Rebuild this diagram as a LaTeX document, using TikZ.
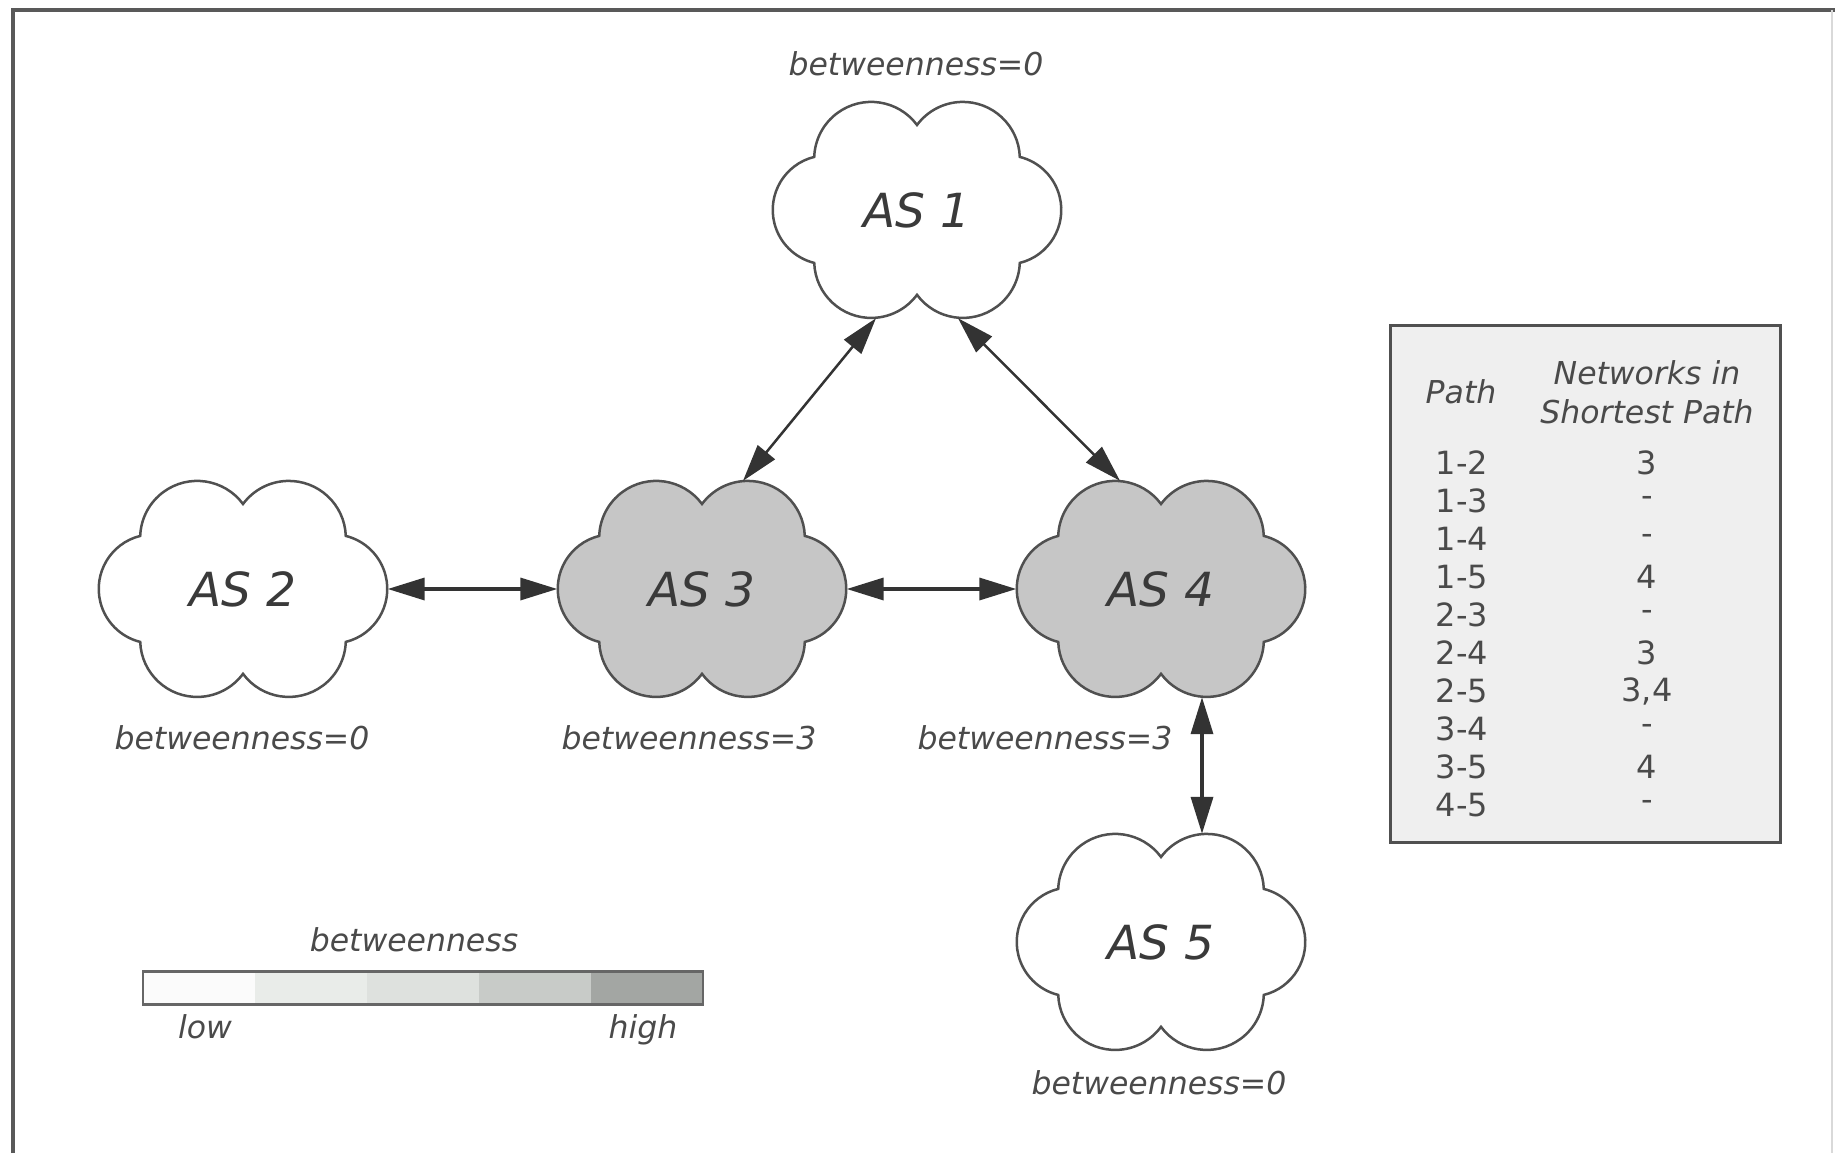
\documentclass[tikz,border=0pt]{standalone}
\usepackage{fontspec}
\setmainfont{DejaVu Sans}
\usetikzlibrary{arrows.meta}
\definecolor{outline}{HTML}{505050}
\definecolor{textgray}{HTML}{3A3A3A}
\definecolor{lblgray}{HTML}{4A4A4A}
\definecolor{cloudfill}{HTML}{C6C6C6}
\definecolor{tablefill}{HTML}{EFEFEF}
\definecolor{segA}{HTML}{FBFBFB}
\definecolor{segB}{HTML}{E9ECE9}
\definecolor{segC}{HTML}{DEE1DE}
\definecolor{segD}{HTML}{C8CBC8}
\definecolor{segE}{HTML}{A3A6A3}
\newcommand\cloudat[3]{%
  \filldraw[cloudline,fill=#3] (#1,#2-85)
    arc[start angle=-36.5,end angle=-178,radius=57]
    arc[start angle=-103.9,end angle=-256.1,radius=54.6]
    arc[start angle=178,end angle=36.5,radius=57]
    arc[start angle=143.5,end angle=2,radius=57]
    arc[start angle=76.1,end angle=-76.1,radius=54.6]
    arc[start angle=-2,end angle=-143.5,radius=57] -- cycle;}
\begin{document}
\begin{tikzpicture}[x=1pt,y=-1pt,
  cloudline/.style={draw=outline,line width=2.5pt},
  cloudnode/.style={minimum width=289pt,minimum height=216pt,inner sep=0pt,
    text=textgray,font=\fontsize{47}{56}\selectfont\itshape},
  lbl/.style={inner sep=0pt,text=lblgray,font=\fontsize{31.5}{38}\selectfont\itshape},
  tbl/.style={inner sep=0pt,text=lblgray,font=\fontsize{32}{38}\selectfont},
  tblh/.style={inner sep=0pt,text=lblgray,align=center,font=\fontsize{31.5}{39}\selectfont\itshape},
  arr/.style={draw=black!80,line width=3.5pt,{Triangle[length=37pt,width=22pt]}-{Triangle[length=37pt,width=22pt]}},
  darr/.style={draw=black!80,line width=2.5pt,{Triangle[length=37pt,width=22pt]}-{Triangle[length=37pt,width=22pt]}},
  frame/.style={draw=black!65,line width=3.5pt},
  seg/.style={minimum width=112pt,minimum height=33pt,inner sep=0pt,draw=none}]
\useasboundingbox (0,0) rectangle (1835,1153);
% frame
\draw[frame] (13,1153) -- (13,10) -- (1835,10);
\draw[draw=black!15,line width=2pt] (1832,10) -- (1832,1153);
% clouds
\cloudat{917}{210}{white}
\cloudat{243}{589}{white}
\cloudat{702}{589}{cloudfill}
\cloudat{1161}{589}{cloudfill}
\cloudat{1161}{942}{white}
\node[cloudnode] (as1) at (917,210) {AS 1};
\node[cloudnode] (as2) at (243,589) {AS 2};
\node[cloudnode] (as3) at (702,589) {AS 3};
\node[cloudnode] (as4) at (1161,589) {AS 4};
\node[cloudnode] (as5) at (1161,942) {AS 5};
% labels
\node[lbl] (b1) at (916,64) {betweenness=0};
\node[lbl] (b2) at (242,738) {betweenness=0};
\node[lbl] (b3) at (689,738) {betweenness=3};
\node[lbl] (b4) at (1045,738) {betweenness=3};
\node[lbl] (b5) at (1159,1083) {betweenness=0};
% connectors
\draw[arr] (as2.east) -- (as3.west);
\draw[arr] (as3.east) -- (as4.west);
\draw[darr] ([xshift=-41pt]as1.south) -- ([xshift=41pt]as3.north);
\draw[darr] ([xshift=41pt]as1.south) -- ([xshift=-41pt]as4.north);
\draw[arr] ([xshift=41pt]as4.south) -- ([xshift=41pt]as5.north);
% table
\node[draw=outline,line width=3pt,fill=tablefill,minimum width=390pt,minimum height=517pt,inner sep=0pt] (tab) at (1585,583.5) {};
\node[tblh] (hp) at (1461,392) {Path};
\node[tblh] (hn) at (1647,392) {Networks in\\Shortest Path};
\foreach \p/\n [count=\i from 0] in {1-2/3,1-3/-,1-4/-,1-5/4,2-3/-,2-4/3,2-5/{3,4},3-4/-,3-5/4,4-5/-}{
  \node[tbl] (p\i) at (1462,463+38*\i) {\p};
  \node[tbl] (n\i) at (1647,463+38*\i) {\n};
}
% legend
\node[lbl] (lt) at (414,940) {betweenness};
\node[seg,fill=segA] (s1) at (199,988) {};
\node[seg,fill=segB] (s2) at (311,988) {};
\node[seg,fill=segC] (s3) at (423,988) {};
\node[seg,fill=segD] (s4) at (535,988) {};
\node[seg,fill=segE] (s5) at (647,988) {};
\draw[draw=black!60,line width=2.5pt] (s1.north west) rectangle (s5.south east);
\node[lbl,anchor=base] (low) at (205,1038) {low};
\node[lbl,anchor=base] (high) at (643,1038) {high};
\end{tikzpicture}
\end{document}
